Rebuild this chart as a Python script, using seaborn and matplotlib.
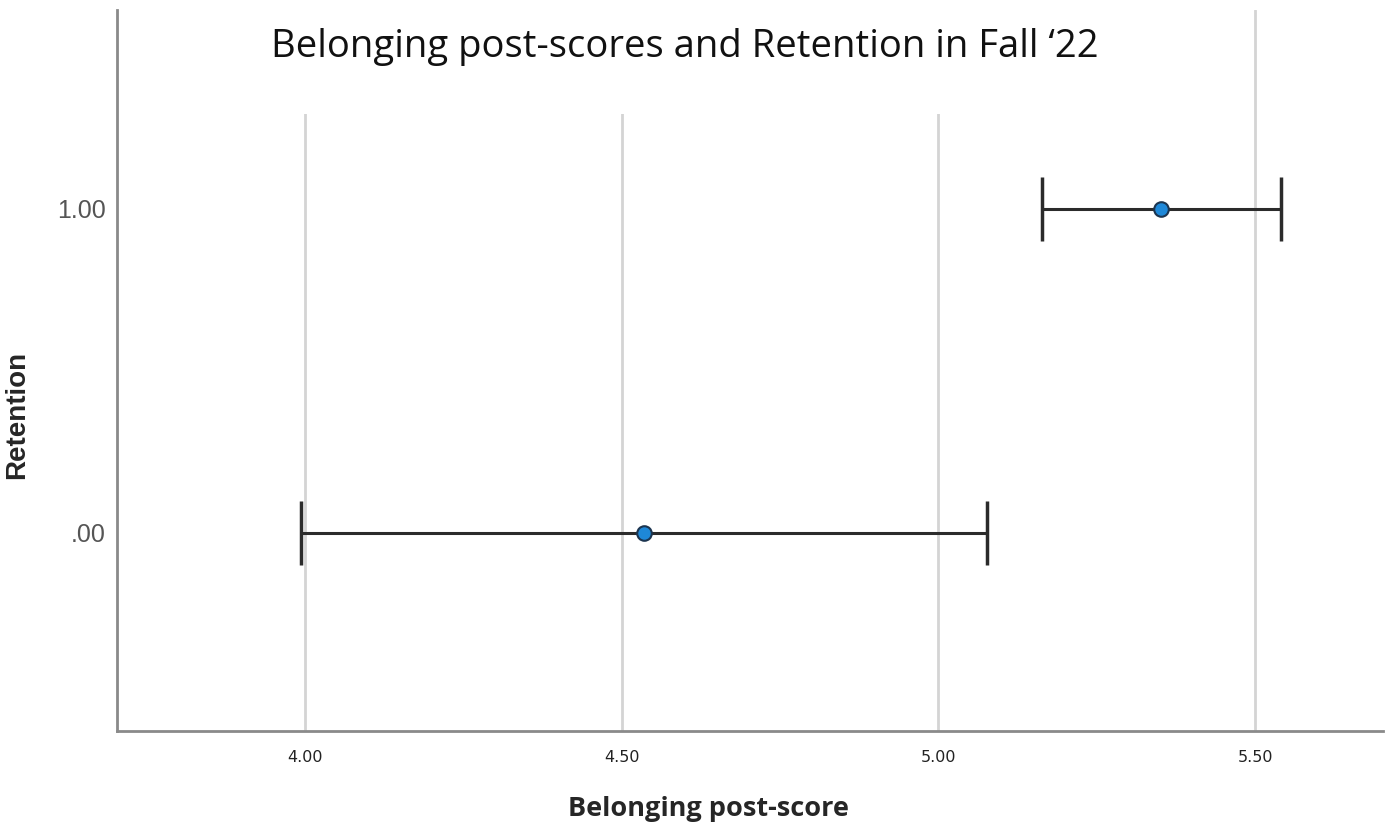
import numpy as np
import matplotlib
matplotlib.use("Agg")
import matplotlib.pyplot as plt
import seaborn as sns

# Data
retention = [0.0, 1.0]
retention_labels = [".00", "1.00"]
mean_score = [4.535, 5.352]
ci_low = [3.994, 5.164]
ci_high = [5.077, 5.541]
x_ticks = [4.00, 4.50, 5.00, 5.50]

sns.set_theme(style="white")

fig = plt.figure(figsize=(13.91, 8.24), dpi=100)
ax = fig.add_axes([0.0841, 0.1129, 0.9101, 0.875])

# Vertical gridlines
for xv in x_ticks:
    ax.axvline(xv, color="#d4d4d4", lw=2, zorder=0)

means = np.array(mean_score)
err = [means - np.array(ci_low), np.array(ci_high) - means]
ax.errorbar(means, retention, xerr=err, fmt="none", ecolor="#2b2b2b",
            elinewidth=2.2, capsize=23, capthick=2.5, zorder=2)
sns.scatterplot(x=mean_score, y=retention, ax=ax, s=110, color="#1e88d8",
                edgecolor="#1c3550", linewidth=1.5, zorder=3)

ax.set_xlim(3.703, 5.702)
ax.set_ylim(-0.611, 1.614)
ax.set_xticks(x_ticks)
ax.set_xticklabels([f"{v:.2f}" for v in x_ticks], fontsize=11.5,
                   family="Liberation Sans Narrow", color="#222222")
ax.set_yticks(retention)
ax.set_yticklabels(retention_labels, fontsize=18, family="Liberation Sans",
                   color="#555555")
ax.tick_params(axis="both", length=0, pad=8)
ax.tick_params(axis="x", pad=14)

for s in ["top", "right"]:
    ax.spines[s].set_visible(False)
for s in ["left", "bottom"]:
    ax.spines[s].set_color("#8a8a8a")
    ax.spines[s].set_linewidth(2)

ax.set_xlabel("Belonging post-score", fontsize=19.5, fontweight="bold",
              family="Open Sans")
ax.xaxis.set_label_coords(0.467, -0.0902)
ax.set_ylabel("Retention", fontsize=20, fontweight="bold",
              family="Liberation Sans")
ax.yaxis.set_label_coords(-0.0687, 0.438)

# Title with a white box covering the top of the gridlines
fig.text(0.492, 0.943, "Belonging post-scores and Retention in Fall \u201822",
         ha="center", va="center", fontsize=27.5, family="Open Sans",
         color="#111111",
         bbox=dict(boxstyle="square,pad=1.25", fc="white", ec="none"))

fig.savefig("out.png", dpi=100)
